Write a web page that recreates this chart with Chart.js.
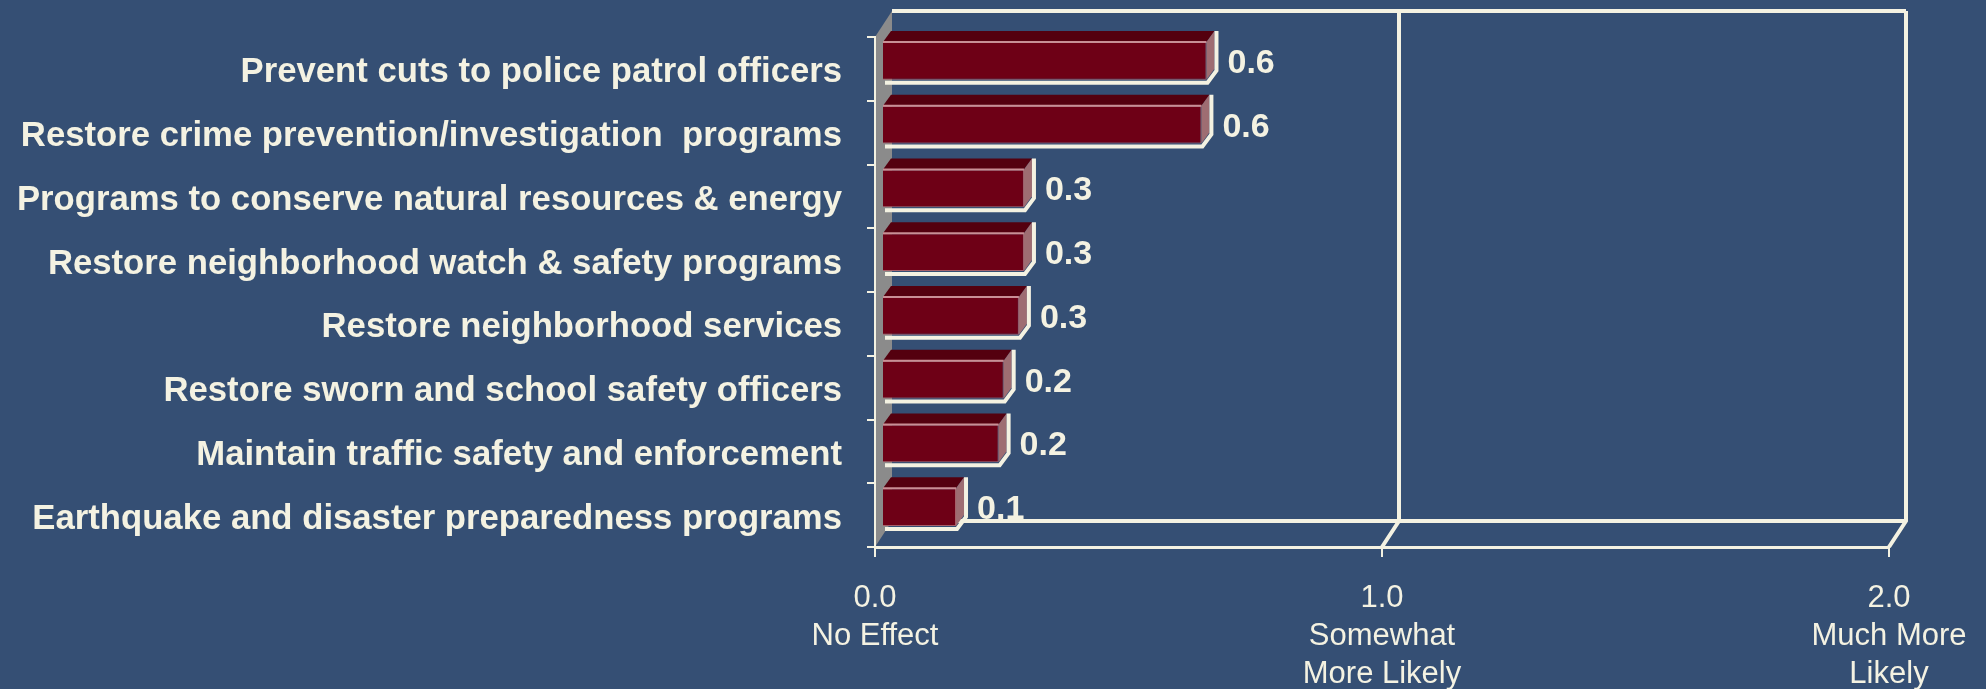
<!DOCTYPE html>
<html>
<head>
<meta charset="utf-8">
<script src="https://cdn.jsdelivr.net/npm/chart.js@4/dist/chart.umd.min.js"></script>
<style>
  html, body { margin: 0; padding: 0; background: #354f74; }
  #wrap { width: 1986px; height: 689px; position: relative; }
</style>
</head>
<body>
<div id="wrap"><canvas id="myChart"></canvas></div>
<script>
// the categories, top to bottom
const categories = [
    'Prevent cuts to police patrol officers',
    'Restore crime prevention/investigation  programs',
    'Programs to conserve natural resources & energy',
    'Restore neighborhood watch & safety programs',
    'Restore neighborhood services',
    'Restore sworn and school safety officers',
    'Maintain traffic safety and enforcement',
    'Earthquake and disaster preparedness programs'
]
// mean effect
const values = [0.64, 0.63, 0.28, 0.28, 0.27, 0.24, 0.23, 0.146]
// x axis tick values and their labels
const xTicks = [0, 1, 2]
const xTickLabels = [
    ['0.0', 'No Effect'],
    ['1.0', 'Somewhat', 'More Likely'],
    ['2.0', 'Much More', 'Likely']
]

const cream = '#f4f2e2'
// depth of the 3d box (back wall offset), of the bar front and of the bars themselves
const wall = {dx: 17, dy: -26}
const shift = {dx: 7, dy: -8}
const bd = {dx: 8, dy: -11}

// draws the fake 3d walls, the bar sides and the value labels
const box3d = {
    id: 'box3d',
    beforeDraw(chart) {
        const c = chart.ctx, a = chart.chartArea, x = chart.scales.x
        c.save()
        // grey left wall
        c.fillStyle = '#8b8b8b'
        c.beginPath()
        c.moveTo(a.left, a.top)
        c.lineTo(a.left + wall.dx, a.top + wall.dy)
        c.lineTo(a.left + wall.dx, a.bottom + wall.dy)
        c.lineTo(a.left, a.bottom)
        c.closePath()
        c.fill()
        // back wall frame and grid lines
        c.strokeStyle = cream
        c.lineWidth = 4
        const l = a.left + wall.dx, r = x.getPixelForValue(2) + wall.dx
        const t = a.top + wall.dy, b = a.bottom + wall.dy
        c.beginPath()
        c.moveTo(l, t); c.lineTo(r, t)
        c.moveTo(l + 30, b); c.lineTo(r, b)
        xTicks.forEach(v => {
            if (v === 0) return
            const px = x.getPixelForValue(v)
            c.moveTo(px + wall.dx, t)
            c.lineTo(px + wall.dx, b)
            c.lineTo(px, a.bottom)
        })
        c.stroke()
        c.restore()
    },
    beforeDatasetsDraw(chart) {
        chart.ctx.save()
        chart.ctx.translate(shift.dx, shift.dy)
    },
    afterDatasetsDraw(chart) {
        const c = chart.ctx, a = chart.chartArea
        const meta = chart.getDatasetMeta(0)
        meta.data.forEach(bar => {
            const L = Math.min(bar.base, bar.x), R = Math.max(bar.base, bar.x)
            const T = bar.y - bar.height / 2, B = bar.y + bar.height / 2
            // top face
            c.fillStyle = '#54000f'
            c.beginPath()
            c.moveTo(L, T); c.lineTo(R, T)
            c.lineTo(R + bd.dx, T + bd.dy); c.lineTo(L + bd.dx, T + bd.dy)
            c.closePath(); c.fill()
            // right face
            c.fillStyle = '#9e6d72'
            c.beginPath()
            c.moveTo(R, T); c.lineTo(R + bd.dx, T + bd.dy)
            c.lineTo(R + bd.dx, B + bd.dy); c.lineTo(R, B)
            c.closePath(); c.fill()
            // pink edge between top and front
            c.strokeStyle = '#c98f96'
            c.lineWidth = 2
            c.beginPath()
            c.moveTo(L, T); c.lineTo(R, T)
            c.stroke()
            // cream outline at the bottom and right
            c.strokeStyle = cream
            c.lineWidth = 4
            c.beginPath()
            c.moveTo(L + 2, B + 3); c.lineTo(R + 1, B + 3)
            c.lineTo(R + bd.dx + 2, B + bd.dy + 2)
            c.lineTo(R + bd.dx + 2, T + bd.dy)
            c.stroke()
        })
        c.restore()
        // value labels, cut off at the floor line like the original
        c.save()
        c.beginPath()
        c.rect(0, 0, chart.width, a.bottom + wall.dy - 2)
        c.clip()
        c.fillStyle = cream
        c.font = 'bold 34px "Liberation Sans", Arial, sans-serif'
        c.textBaseline = 'alphabetic'
        meta.data.forEach((bar, i) => {
            const R = Math.max(bar.base, bar.x) + shift.dx
            c.fillText(values[i].toFixed(1), R + 21, bar.y + shift.dy + 12)
        })
        c.restore()
    }
}

new Chart(document.getElementById('myChart'), {
    type: 'bar',
    data: {
        labels: categories,
        datasets: [{
            data: values,
            backgroundColor: '#6e0016',
            borderColor: '#a8606a',
            borderWidth: 1,
            barPercentage: 0.59,
            categoryPercentage: 1,
            clip: false
        }]
    },
    options: {
        indexAxis: 'y',
        responsive: true,
        maintainAspectRatio: false,
        animation: false,
        events: [],
        layout: {padding: {top: 37, right: 97, left: 0, bottom: 0}},
        plugins: {legend: {display: false}, tooltip: {enabled: false}},
        scales: {
            x: {
                min: 0,
                max: 2,
                afterFit: s => { s.height = 142; s.paddingLeft = 0; s.paddingRight = 0 },
                afterBuildTicks: s => { s.ticks = xTicks.map(v => ({value: v})) },
                grid: {drawOnChartArea: false, color: cream, tickLength: 10, lineWidth: 2},
                border: {color: cream, width: 3},
                ticks: {
                    color: cream,
                    padding: 23,
                    maxRotation: 0,
                    font: {family: '"Liberation Sans", Arial, sans-serif', size: 31, lineHeight: 1.22},
                    callback: (v, i) => xTickLabels[i]
                }
            },
            y: {
                afterFit: s => { s.width = 875; s.paddingTop = 0; s.paddingBottom = 0 },
                grid: {drawOnChartArea: false, color: cream, tickLength: 8, lineWidth: 2},
                border: {color: cream, width: 2},
                ticks: {
                    color: cream,
                    padding: 25,
                    labelOffset: 4,
                    font: {family: '"Liberation Sans", Arial, sans-serif', size: 34.7, weight: 'bold'}
                }
            }
        }
    },
    plugins: [box3d]
})
</script>
</body>
</html>
